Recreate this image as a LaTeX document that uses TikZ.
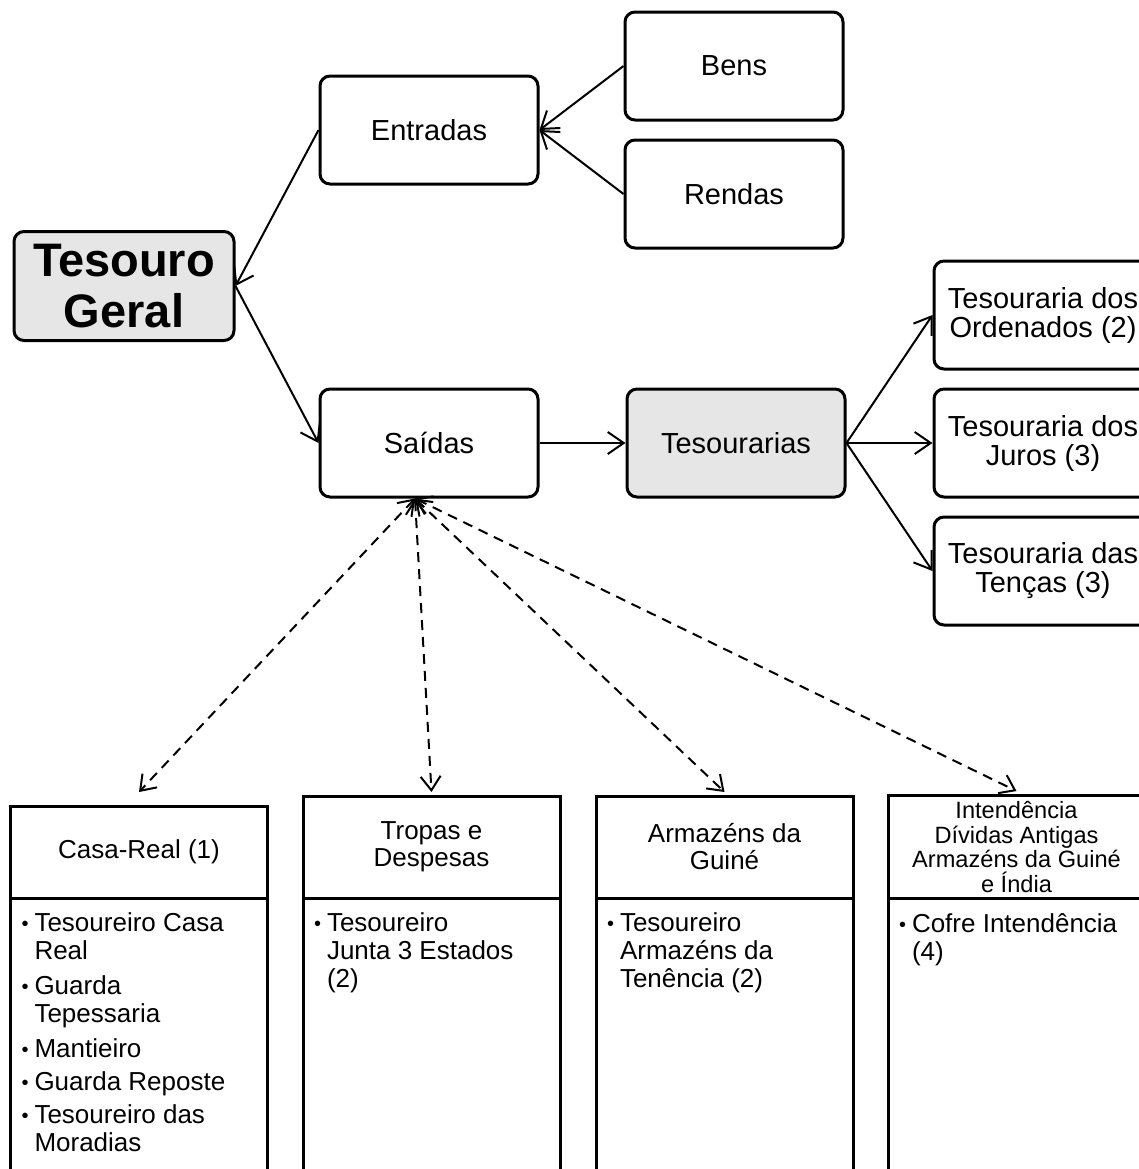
\documentclass[tikz,border=0pt]{standalone}
\usepackage{fontspec}
\setmainfont{Liberation Sans}
\usepackage{xcolor}
\definecolor{BoxGray}{RGB}{230,230,230}
\usepackage{tikz}
\usetikzlibrary{arrows.meta, positioning}
\newcommand{\bitem}[1]{\noindent\makebox[6.5pt][l]{\raisebox{0.6pt}{\fontsize{10}{10}\selectfont\textbullet}}\begin{tabular}[t]{@{}l@{}}#1\end{tabular}\par\vspace{2.5pt}}
\newcommand{\blist}[1]{\parbox[t][136pt][t]{117.5pt}{\fontsize{13}{14}\selectfont #1}}

\begin{document}
\begin{tikzpicture}[
        x=0.5pt, y=-0.5pt,
        node distance=8.5pt and 43pt,
        box/.style={draw, rounded corners=5pt, line width=1.5pt,
                    minimum width=109pt, minimum height=54pt,
                    font=\fontsize{14.5}{14.5}\selectfont, align=center},
        hdrbox/.style={draw, line width=1.5pt, outer sep=0pt,
                    minimum width=128.5pt, minimum height=51pt,
                    font=\fontsize{13}{13.5}\selectfont, align=center},
        itembox/.style={draw, line width=1.5pt, outer sep=0pt, anchor=north,
                    minimum width=128.5pt, inner xsep=5.5pt, inner ysep=7pt},
        arr/.style={-{Straight Barb[length=8pt,width=11pt]}, line width=1pt},
        dasharr/.style={{Straight Barb[length=7pt,width=10pt]}-{Straight Barb[length=7pt,width=10pt]},
                    line width=1pt, dash pattern=on 5pt off 3.5pt}
    ]
        \useasboundingbox (0,0) rectangle (1139,1169);

        \node[box, fill=BoxGray, minimum width=110pt, minimum height=54.5pt,
              font=\fontsize{23.5}{25.5}\selectfont\bfseries] (tesouro) at (124,286) {Tesouro\\Geral};
        \node[box] (entradas) at (429,130) {Entradas};
        \node[box] (saidas) at (429,443) {Saídas};
        \node[box] (bens) at (734,66) {Bens};
        \node[box, below=of bens] (rendas) {Rendas};
        \node[box, fill=BoxGray, right=of saidas] (tesourarias) {Tesourarias};
        \node[box, right=of tesourarias] (juros) {Tesouraria dos\\Juros (3)};
        \node[box, above=of juros] (ordenados) {Tesouraria dos\\Ordenados (2)};
        \node[box, below=of juros] (tencas) {Tesouraria das\\Tenças (3)};

        \node[hdrbox, minimum height=46pt] (casa) at (139,852) {Casa-Real (1)};
        \node[hdrbox] (tropas) at (431.5,847) {Tropas e\\Despesas};
        \node[hdrbox] (armazens) at (724.5,847) {Armazéns da\\Guiné};
        \node[hdrbox, font=\fontsize{11.8}{12.2}\selectfont] (intend) at (1016.5,847)
              {Intendência\\Dívidas Antigas\\Armazéns da Guiné\\e Índia};

        \node[itembox] (casalist) at (casa.south) {\blist{\bitem{Tesoureiro Casa\\Real}\bitem{Guarda\\Tepessaria}%
              \bitem{Mantieiro}\bitem{Guarda Reposte}\bitem{Tesoureiro das\\Moradias}}};
        \node[itembox] (tropaslist) at (tropas.south) {\blist{\bitem{Tesoureiro\\Junta 3 Estados\\(2)}}};
        \node[itembox] (armazenslist) at (armazens.south) {\blist{\bitem{Tesoureiro\\Armazéns da\\Tenência (2)}}};
        \node[itembox] (intendlist) at (intend.south) {\blist{\bitem{Cofre Intendência\\(4)}}};

        \coordinate (sd) at ([xshift=-7pt]saidas.south);

        \draw[arr] (entradas.west) -- (tesouro.east);
        \draw[arr] (tesouro.east) -- (saidas.west);
        \draw[arr] (bens.west) -- (entradas.east);
        \draw[arr] (rendas.west) -- (entradas.east);
        \draw[arr] (saidas) -- (tesourarias);
        \draw[arr] (tesourarias.east) -- (ordenados.west);
        \draw[arr] (tesourarias.east) -- (juros.west);
        \draw[arr] (tesourarias.east) -- (tencas.west);

        \draw[dasharr] (sd) -- ([yshift=7pt]casa.north);
        \draw[dasharr] (sd) -- ([yshift=2pt]tropas.north);
        \draw[dasharr] (sd) -- ([yshift=2pt]armazens.north);
        \draw[dasharr] (sd) -- ([yshift=2pt]intend.north);
    \end{tikzpicture}
\end{document}
